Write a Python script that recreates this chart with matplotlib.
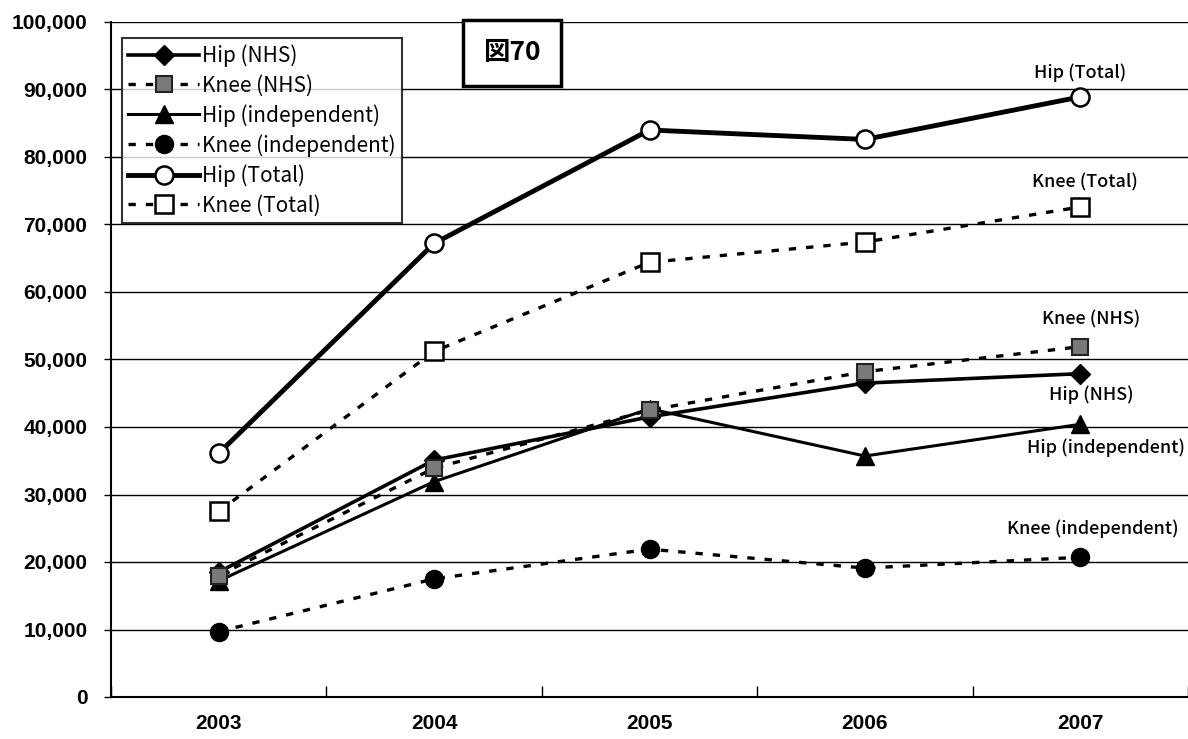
import matplotlib.pyplot as plt
import numpy as np

plt.rcParams['font.family'] = ['Noto Sans CJK JP', 'DejaVu Sans']

years = ['2003', '2004', '2005', '2006', '2007']
hip_nhs = [18500, 35100, 41500, 46500, 47900]
knee_nhs = [18000, 33900, 42500, 48200, 51900]
hip_ind = [17200, 31900, 42700, 35700, 40400]
knee_ind = [9700, 17500, 21900, 19100, 20700]
hip_total = [36100, 67200, 84000, 82600, 88900]
knee_total = [27500, 51200, 64400, 67400, 72600]

fig = plt.figure(figsize=(11.88, 7.39), dpi=100)
ax = fig.add_axes([111 / 1188, 1 - 697 / 739, 1 - 111 / 1188, (697 - 22) / 739])

x = np.arange(len(years))
dash = (0, (2.2, 3))

ax.plot(x, hip_nhs, '-', color='black', lw=2.6, marker='D', ms=10,
        mfc='black', mec='black', label='Hip (NHS)', zorder=5)
ax.plot(x, knee_nhs, color='black', lw=2.4, ls=dash, marker='s', ms=12,
        mfc='#7a7a7a', mec='#222222', mew=1.5, label='Knee (NHS)', zorder=6)
ax.plot(x, hip_ind, '-', color='black', lw=2.2, marker='^', ms=13,
        mfc='black', mec='black', label='Hip (independent)', zorder=4)
ax.plot(x, knee_ind, color='black', lw=2.4, ls=dash, marker='o', ms=13,
        mfc='black', mec='black', label='Knee (independent)', zorder=5)
ax.plot(x, hip_total, '-', color='black', lw=3.5, marker='o', ms=13,
        mfc='white', mec='black', mew=1.8, label='Hip (Total)', zorder=5)
ax.plot(x, knee_total, color='black', lw=2.4, ls=dash, marker='s', ms=13,
        mfc='white', mec='black', mew=1.8, label='Knee (Total)', zorder=5)

ax.set_xlim(-0.5, 4.5)
ax.set_ylim(0, 100000)
ax.set_yticks(np.arange(0, 100001, 10000))
ax.set_yticklabels([f'{v:,}' for v in range(0, 100001, 10000)],
                   family='Liberation Sans', fontweight='bold', fontsize=15)
ax.set_xticks(x)
ax.set_xticklabels(years, family='Liberation Sans', fontweight='bold', fontsize=15)
ax.set_xticks(np.arange(-0.5, 4.6, 1), minor=True)
ax.tick_params(axis='x', which='major', length=0, pad=12)
ax.tick_params(axis='x', which='minor', direction='in', length=8, width=1)
ax.tick_params(axis='y', length=5, width=1, pad=12)
ax.yaxis.grid(True, color='black', lw=1)
ax.set_axisbelow(True)
for s in ['top', 'right']:
    ax.spines[s].set_visible(False)
ax.spines['left'].set_linewidth(1.5)
ax.spines['bottom'].set_linewidth(1.5)

# 末尾のラベル
lab = dict(fontsize=13, ha='center', va='center', fontweight='medium')
ax.text(4.0, 92500, 'Hip (Total)', **lab)
ax.text(4.02, 76300, 'Knee (Total)', **lab)
ax.text(4.05, 56000, 'Knee (NHS)', **lab)
ax.text(4.05, 44800, 'Hip (NHS)', **lab)
ax.text(4.12, 37000, 'Hip (independent)', **lab)
ax.text(4.06, 25000, 'Knee (independent)', **lab)

leg = ax.legend(loc='upper left', bbox_to_anchor=(11 / 1077, 1 - 16 / 675),
                fontsize=15, frameon=True, fancybox=False, handlelength=3.4,
                handletextpad=0.15, borderpad=0.3, labelspacing=0.36,
                borderaxespad=0)
leg.get_frame().set_edgecolor('black')
leg.get_frame().set_linewidth(1.5)

fig.text(512 / 1188, 1 - 53 / 739, '図70', fontsize=19, fontweight='bold',
         ha='center', va='center',
         bbox=dict(boxstyle='square,pad=0.75', fc='white', ec='black', lw=2.5))

fig.savefig('out.png', dpi=100)
